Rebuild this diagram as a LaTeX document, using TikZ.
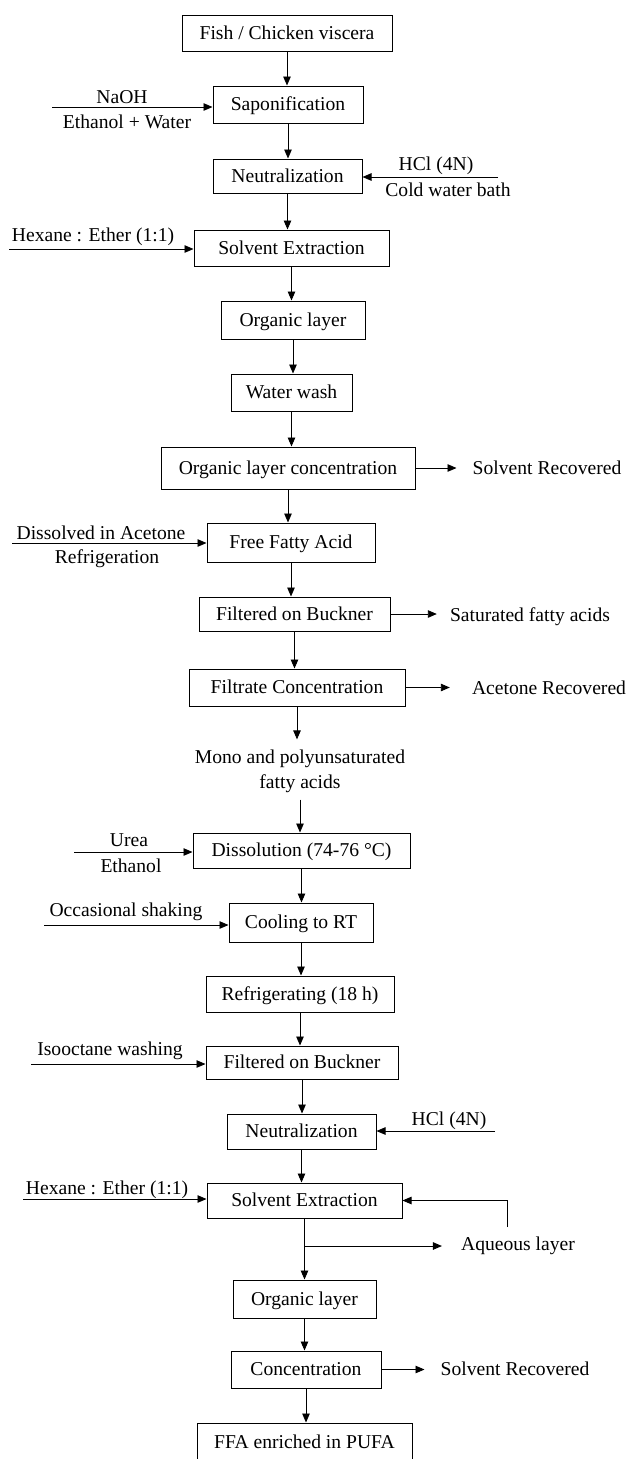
\documentclass[tikz,border=0pt]{standalone}
\usepackage{fontspec}
\setmainfont{Liberation Serif}
\usetikzlibrary{arrows.meta}
\begin{document}
\begin{tikzpicture}[x=1pt,y=-1pt,
  font=\fontsize{19.6}{25}\selectfont,
  box/.style={draw, line width=1pt, inner sep=0pt, align=center, text height=15pt, text depth=3pt},
  lbl/.style={inner sep=0pt, align=center},
  arr/.style={line width=0.9pt, -{Triangle[length=9pt,width=7.5pt]}},
  ln/.style={line width=0.9pt}]
\clip (0,0) rectangle (627,1459);
% main boxes
\node[box, minimum width=210pt, minimum height=36pt] (fish)  at (287,33)    {Fish / Chicken viscera};
\node[box, minimum width=150pt, minimum height=37pt] (sapon) at (288,104.5) {Saponification};
\node[box, minimum width=149pt, minimum height=34pt] (neuta) at (287.5,176) {Neutralization};
\node[box, minimum width=195pt, minimum height=36pt] (sea)   at (291.5,248) {Solvent Extraction};
\node[box, minimum width=144pt, minimum height=38pt] (orga)  at (293,320)   {Organic layer};
\node[box, minimum width=121pt, minimum height=37pt] (ww)    at (291.5,392.5) {Water wash};
\node[box, minimum width=254pt, minimum height=42pt] (olc)   at (288,468)   {Organic layer concentration};
\node[box, minimum width=168pt, minimum height=39pt] (ffa)   at (291,542.5) {Free Fatty Acid};
\node[box, minimum width=191pt, minimum height=34pt] (fba)   at (294.5,614) {Filtered on Buckner};
\node[box, minimum width=216pt, minimum height=37pt] (fc)    at (297,687.5) {Filtrate Concentration};
\node[lbl] (mono) at (300,771) {Mono and polyunsaturated\\fatty acids};
\node[box, minimum width=217pt, minimum height=35pt] (diss)  at (301.5,850.5) {Dissolution (74-76 °C)};
\node[box, minimum width=144pt, minimum height=39pt] (cool)  at (301,922.5) {Cooling to RT};
\node[box, minimum width=188pt, minimum height=36pt] (refr)  at (300,994)   {Refrigerating (18 h)};
\node[box, minimum width=192pt, minimum height=33pt] (fbb)   at (302,1062.5) {Filtered on Buckner};
\node[box, minimum width=149pt, minimum height=35pt] (neutb) at (301.5,1131.5) {Neutralization};
\node[box, minimum width=195pt, minimum height=35pt] (seb)   at (304.5,1200.5) {Solvent Extraction};
\node[box, minimum width=143pt, minimum height=38pt] (orgb)  at (304.5,1299) {Organic layer};
\node[box, minimum width=150pt, minimum height=37pt] (conc)  at (306,1369.5) {Concentration};
\node[box, minimum width=215pt, minimum height=38pt] (pufa)  at (304.5,1442) {FFA enriched in PUFA};
% main chain
\draw[arr] (fish.south) -- (fish.south |- sapon.north);
\draw[arr] (sapon.south) -- (sapon.south |- neuta.north);
\draw[arr] (neuta.south) -- (neuta.south |- sea.north);
\draw[arr] (sea.south) -- (sea.south |- orga.north);
\draw[arr] (orga.south) -- (orga.south |- ww.north);
\draw[arr] (ww.south) -- (ww.south |- olc.north);
\draw[arr] (olc.south) -- (olc.south |- ffa.north);
\draw[arr] (ffa.south) -- (ffa.south |- fba.north);
\draw[arr] (fba.south) -- (fba.south |- fc.north);
\draw[arr, shorten >=10pt] (fc.south) -- (fc.south |- mono.north);
\draw[arr, shorten <=7pt] (mono.south) -- (mono.south |- diss.north);
\draw[arr] (diss.south) -- (diss.south |- cool.north);
\draw[arr] (cool.south) -- (cool.south |- refr.north);
\draw[arr] (refr.south) -- (refr.south |- fbb.north);
\draw[arr] (fbb.south) -- (fbb.south |- neutb.north);
\draw[arr] (neutb.south) -- (neutb.south |- seb.north);
\draw[arr] (seb.south) -- (seb.south |- orgb.north);
\draw[arr] (orgb.south) -- (orgb.south |- conc.north);
\draw[arr] (conc.south) -- (conc.south |- pufa.north);
% side inputs
\coordinate (inA) at (52,107);
\draw[arr] (inA) -- (inA -| sapon.west);
\node[lbl] (naoh) at (122,97) {NaOH};
\node[lbl] (ewat) at (127,122) {Ethanol + Water};

\coordinate (inB) at (498,177);
\draw[arr] (inB) -- (inB -| neuta.east);
\node[lbl] (hcla) at (436,166) {HCl (4N)};
\node[lbl] (cwb)  at (448,190) {Cold water bath};

\coordinate (inC) at (9,249);
\draw[arr] (inC) -- (inC -| sea.west);
\node[lbl] (hexa) at (93,237) {Hexane : Ether (1:1)};

\coordinate (inD) at (12,543);
\draw[arr] (inD) -- (inD -| ffa.west);
\node[lbl] (dis) at (101,533) {Dissolved in Acetone};
\node[lbl] (ref) at (107,559) {Refrigeration};

\coordinate (inE) at (74,852);
\draw[arr] (inE) -- (inE -| diss.west);
\node[lbl] (urea) at (129,840) {Urea};
\node[lbl] (eth)  at (131,866) {Ethanol};

\coordinate (inF) at (44,925);
\draw[arr] (inF) -- (inF -| cool.west);
\node[lbl] (occ) at (126,912) {Occasional shaking};

\coordinate (inG) at (31,1064);
\draw[arr] (inG) -- (inG -| fbb.west);
\node[lbl] (iso) at (110,1051) {Isooctane washing};

\coordinate (inH) at (495,1131);
\draw[arr] (inH) -- (inH -| neutb.east);
\node[lbl] (hclb) at (449,1121) {HCl (4N)};

\coordinate (inI) at (23,1199);
\draw[arr] (inI) -- (inI -| seb.west);
\node[lbl] (hexb) at (107,1190) {Hexane : Ether (1:1)};

\coordinate (loop) at (507,1227);
\draw[arr] (loop) -- (loop |- seb.east) -- (seb.east);
% outputs
\node[lbl] (sra) at (547,468) {Solvent Recovered};
\draw[arr, shorten >=16pt] (olc.east) -- (olc.east -| sra.west);
\node[lbl] (sat) at (530,617) {Saturated fatty acids};
\draw[arr, shorten >=13pt] (fba.east) -- (fba.east -| sat.west);
\node[lbl] (acr) at (549,688) {Acetone Recovered};
\draw[arr, shorten >=22pt] (fc.east) -- (fc.east -| acr.west);
\node[lbl] (aql) at (518,1246) {Aqueous layer};
\draw[arr, shorten >=19pt] (seb.south |- aql.west) -- (aql.west);
\node[lbl] (srb) at (515,1369) {Solvent Recovered};
\draw[arr, shorten >=16pt] (conc.east) -- (conc.east -| srb.west);
\end{tikzpicture}
\end{document}
